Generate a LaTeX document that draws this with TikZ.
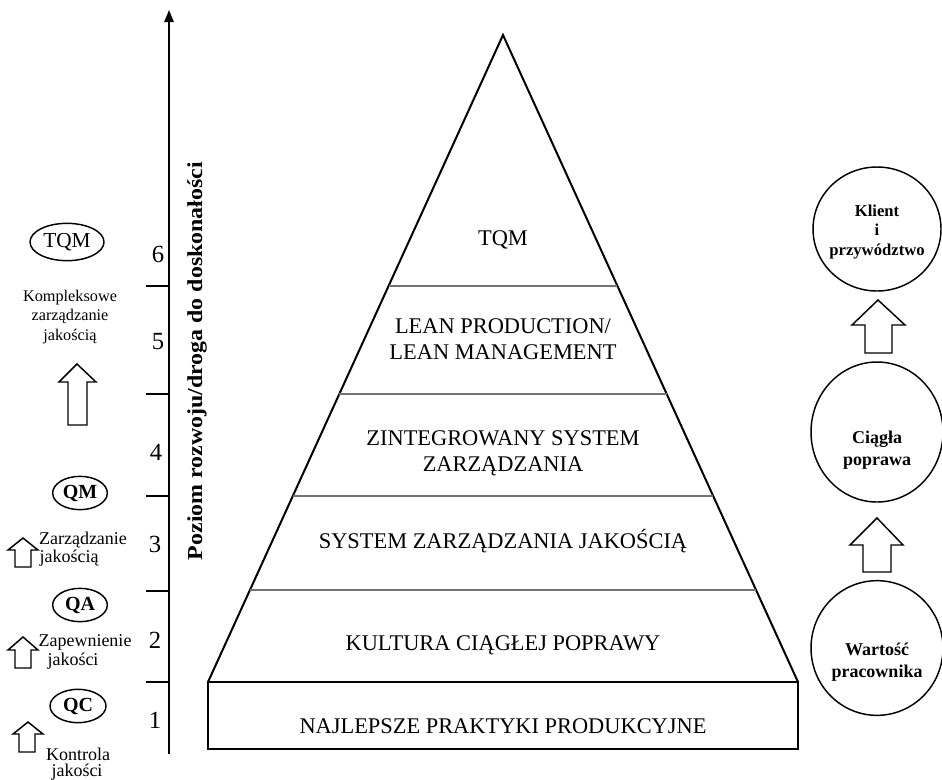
\documentclass[tikz,border=0pt]{standalone}
\usepackage{fontspec}
\setmainfont{Liberation Serif}
\usetikzlibrary{arrows.meta,shapes.geometric}
\tikzset{
  pyr/.style={draw=black, line width=1.5pt, line join=miter},
  sep/.style={draw=black!55, line width=1.1pt},
  tick/.style={draw=black, line width=0.8pt},
  pyrtext/.style={font=\fontsize{16.8}{19.5}\selectfont, align=center, inner sep=0pt},
  numtext/.style={font=\fontsize{18.5}{20}\selectfont, inner sep=0pt},
  smalltext/.style={font=\fontsize{13.5}{14.6}\selectfont, align=center, inner sep=0pt},
  oval/.style={draw, ellipse, line width=1.1pt, inner sep=0pt},
  ring/.style={draw, ellipse, line width=1.1pt, inner sep=0pt},
  ringtext/.style={font=\bfseries\fontsize{13.5}{16.5}\selectfont, align=center, inner sep=0pt},
  bigarrow/.style={draw=black, line width=1.1pt, fill=white, line join=miter},
}
\begin{document}
\begin{tikzpicture}[x=0.75pt,y=-0.75pt]
\useasboundingbox (0,0) rectangle (942,779);

% axis
\coordinate (axb) at (169,754);
\coordinate (axt) at (169,10);
\draw[line width=1.3pt,-{Triangle[length=9pt,width=7pt]}] (axb) -- (axt);
\foreach \yy/\nm in {286/t5,394/t4,496/t3,591/t2,682/t1}{
  \coordinate (\nm a) at (146,\yy);
  \coordinate (\nm b) at (169,\yy);
  \draw[tick] (\nm a) -- (\nm b);
}
\node[numtext] (n6) at (158,254) {6};
\node[numtext] (n5) at (158,342) {5};
\node[numtext] (n4) at (156,452) {4};
\node[numtext] (n3) at (155,544) {3};
\node[numtext] (n2) at (155,640) {2};
\node[numtext] (n1) at (155,720) {1};
\node[rotate=90, inner sep=0pt, font=\bfseries\fontsize{16}{19}\selectfont] (axlabel) at (197,361)
  {\scalebox{1.12}[1]{Poziom rozwoju/droga do doskonałości}};

% pyramid
\coordinate (apex) at (503,35);
\coordinate (bl) at (208,682);
\coordinate (br) at (798,682);
\coordinate (rbl) at (208,749);
\coordinate (rbr) at (798,749);
\draw[pyr] (bl) -- (apex) -- (br);
\draw[pyr] (bl) rectangle (rbr);
\foreach \yy/\nm in {286/s5,394/s4,496/s3,590/s2}{
  \pgfmathsetmacro{\dx}{(\yy-35)*0.45595}
  \coordinate (\nm l) at ({503-\dx},\yy);
  \coordinate (\nm r) at ({503+\dx},\yy);
  \draw[sep] (\nm l) -- (\nm r);
}
\node[pyrtext] (p6) at (503,240) {TQM};
\node[pyrtext] (p5) at (503,339) {LEAN PRODUCTION/\\LEAN MANAGEMENT};
\node[pyrtext] (p4) at (503,453) {ZINTEGROWANY SYSTEM\\ZARZĄDZANIA};
\node[pyrtext] (p3) at (503,541) {SYSTEM ZARZĄDZANIA JAKOŚCIĄ};
\node[pyrtext] (p2) at (503,645) {KULTURA CIĄGŁEJ POPRAWY};
\node[pyrtext] (p1) at (503,726) {NAJLEPSZE PRAKTYKI PRODUKCYJNE};

% left column
\node[oval, minimum width=55.5pt, minimum height=28pt, font=\fontsize{16}{18}\selectfont] (tqm) at (67,242) {TQM};
\node[smalltext, font=\fontsize{12.2}{14.6}\selectfont] (komp) at (70,317) {Kompleksowe\\zarządzanie\\jakością};
\draw[bigarrow] (77,364) -- (96,382) -- (87,382) -- (87,425) -- (68,425) -- (68,382) -- (59,382) -- cycle;

\node[oval, minimum width=41pt, minimum height=25pt, font=\bfseries\fontsize{15}{16}\selectfont] (qm) at (80,493) {QM};
\draw[bigarrow] (23,538) -- (38,550) -- (31,550) -- (31,567) -- (15,567) -- (15,550) -- (8,550) -- cycle;
\node[smalltext] (zm1) at (83,540) {Zarządzanie};
\node[smalltext] (zm2) at (69,558) {jakością};

\node[oval, minimum width=41pt, minimum height=25pt, font=\bfseries\fontsize{15}{16}\selectfont] (qa) at (80,605) {QA};
\draw[bigarrow] (23,637) -- (38,650) -- (31,650) -- (31,668) -- (15,668) -- (15,650) -- (8,650) -- cycle;
\node[smalltext] (za1) at (85,642) {Zapewnienie};
\node[smalltext] (za2) at (73,661) {jakości};

\node[oval, minimum width=42pt, minimum height=25pt, font=\bfseries\fontsize{15}{16}\selectfont] (qc) at (78,706) {QC};
\draw[bigarrow] (28,722) -- (43,734) -- (35,734) -- (35,752) -- (19,752) -- (19,734) -- (13,734) -- cycle;
\node[smalltext] (ko1) at (78,754) {Kontrola};
\node[smalltext] (ko2) at (77,772) {jakości};

% right column
\node[ring, minimum width=96pt, minimum height=93pt] (klient) at (877,229) {};
\node[ringtext, font=\bfseries\fontsize{12.5}{14.6}\selectfont] (klientt) at (877,232) {Klient\\i\\przywództwo};
\draw[bigarrow] (878,300) -- (905,325) -- (892,325) -- (892,353) -- (865,353) -- (865,325) -- (852,325) -- cycle;
\node[ring, minimum width=99pt, minimum height=105pt] (ciagla) at (877,432) {};
\node[ringtext] (ciaglat) at (877,450) {Ciągła\\poprawa};
\draw[bigarrow] (877,518) -- (903,545) -- (891,545) -- (891,572) -- (863,572) -- (863,545) -- (850,545) -- cycle;
\node[ring, minimum width=99pt, minimum height=101pt] (wart) at (877,648) {};
\node[ringtext] (wartt) at (877,662) {Wartość\\pracownika};
\end{tikzpicture}
\end{document}
